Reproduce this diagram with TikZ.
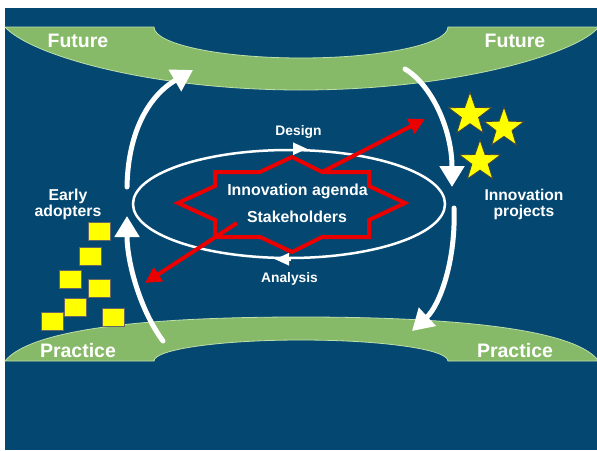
\documentclass[tikz,border=0pt]{standalone}
\usepackage{fontspec}
\setmainfont{Liberation Sans}
\usetikzlibrary{arrows.meta,shapes.geometric}
\definecolor{bgblue}{RGB}{4,72,114}
\definecolor{band}{RGB}{135,186,104}
\definecolor{bandedge}{RGB}{190,222,170}
\definecolor{starred}{RGB}{235,0,0}
\definecolor{ylw}{RGB}{255,255,0}
\begin{document}
\begin{tikzpicture}[x=1pt,y=-1pt,
  lbl/.style={text=white, font=\bfseries\fontsize{#1}{#1}\selectfont, inner sep=0pt, anchor=base},
  bandshape/.style={fill=band, draw=bandedge, line width=0.8pt},
  bigarrow/.style={draw=white, line width=5pt, line cap=round, -{Triangle[length=21pt,width=24pt]}},
  redarrow/.style={draw=starred, line width=4pt, -{Triangle[length=16pt,width=16pt]}},
  loophead/.style={draw=white, line width=2.5pt, -{Triangle[length=14pt,width=12pt]}},
  gstar/.style={star, star points=5, star point ratio=2.5, fill=ylw, draw=black!75, line width=0.8pt, inner sep=0pt},
  sq/.style={rectangle, fill=ylw, draw=black!60, line width=0.6pt, minimum width=22pt, minimum height=18pt, inner sep=0pt}]
\useasboundingbox (0,0) rectangle (597,450);
\fill[white] (0,0) rectangle (597,450);
\fill[bgblue] (5,8) rectangle (597,450);
% top band (Future)
\path[bandshape] (5,27) -- (154,27)
  .. controls (154,44.1) and (219.8,58) .. (301,58)
  .. controls (382.2,58) and (448,44.1) .. (448,27)
  -- (597,27) -- (597,29)
  .. controls (572,55) and (452,90) .. (301,90)
  .. controls (150,90) and (30,55) .. (5,27) -- cycle;
% bottom band (Practice)
\path[bandshape] (5,361) -- (154,361)
  .. controls (154,349.4) and (219.8,340) .. (301,340)
  .. controls (382.2,340) and (448,349.4) .. (448,361)
  -- (597,361) -- (597,359)
  .. controls (572,330) and (462,317) .. (301,317)
  .. controls (140,317) and (30,330) .. (5,361) -- cycle;
% central loop
\node[draw=white, line width=2.5pt, ellipse, minimum width=312pt, minimum height=108pt, inner sep=0pt] (loop) at (289,204) {};
\draw[loophead] ([xshift=4pt]loop.north) -- ([xshift=18pt]loop.north);
\draw[loophead] ([xshift=2pt]loop.south) -- ([xshift=-14pt]loop.south);
% red star
\draw[starred, line width=4pt, line join=miter]
  (178,203) -- (215,186) -- (215,172) -- (260,172) -- (292,157) -- (322,172)
  -- (369,172) -- (369,186) -- (405,203) -- (369,220) -- (369,237) -- (322,237)
  -- (292,252) -- (260,237) -- (215,237) -- (215,220) -- cycle;
% red arrows
\coordinate (ra0) at (322,172);
\coordinate (ra1) at (425,119);
\coordinate (rb0) at (237,223);
\coordinate (rb1) at (145,283);
\draw[redarrow] (ra0) -- (ra1);
\draw[redarrow] (rb0) -- (rb1);
% big white arrows
\coordinate (w1s) at (163,341);
\coordinate (w1e) at (127,216);
\coordinate (w2s) at (127,187);
\coordinate (w2e) at (193,70);
\coordinate (w3s) at (405,69);
\coordinate (w3e) at (452,187);
\coordinate (w4s) at (454,208);
\coordinate (w4e) at (412,331);
\draw[bigarrow] (w1s) .. controls (140,310) and (127,262) .. (w1e);
\draw[bigarrow] (w2s) .. controls (128,130) and (150,95) .. (w2e);
\draw[bigarrow] (w3s) .. controls (432,85) and (452,130) .. (w3e);
\draw[bigarrow] (w4s) .. controls (456,260) and (440,305) .. (w4e);
% stars
\node[gstar, minimum size=45pt] (st1) at (470,114.7) {};
\node[gstar, minimum size=42pt] (st2) at (504,128) {};
\node[gstar, minimum size=43pt] (st3) at (480,161.5) {};
% squares
\node[sq] (q1) at (99,231.5) {};
\node[sq] (q2) at (90,256) {};
\node[sq] (q3) at (70.5,279) {};
\node[sq] (q4) at (99,288.5) {};
\node[sq] (q5) at (75.5,307) {};
\node[sq] (q6) at (52,321) {};
\node[sq] (q7) at (113,317) {};
% texts
\node[lbl=19.5] (futL) at (78,47) {Future};
\node[lbl=19.5] (futR) at (515,47) {Future};
\node[lbl=19.5] (prL) at (78,357) {Practice};
\node[lbl=19.5] (prR) at (515,357) {Practice};
\node[lbl=15.8] (ea1) at (68,200) {Early};
\node[lbl=15.8] (ea2) at (68,216) {adopters};
\node[lbl=15.6] (ip1) at (524,200) {Innovation};
\node[lbl=15.6] (ip2) at (524,216) {projects};
\node[lbl=13.8] (des) at (298.5,135) {Design};
\node[lbl=13.8] (ana) at (289.5,282) {Analysis};
\node[lbl=15.9] (agd) at (297.5,195) {Innovation agenda};
\node[lbl=15.9] (stk) at (297,222) {Stakeholders};
\end{tikzpicture}
\end{document}
